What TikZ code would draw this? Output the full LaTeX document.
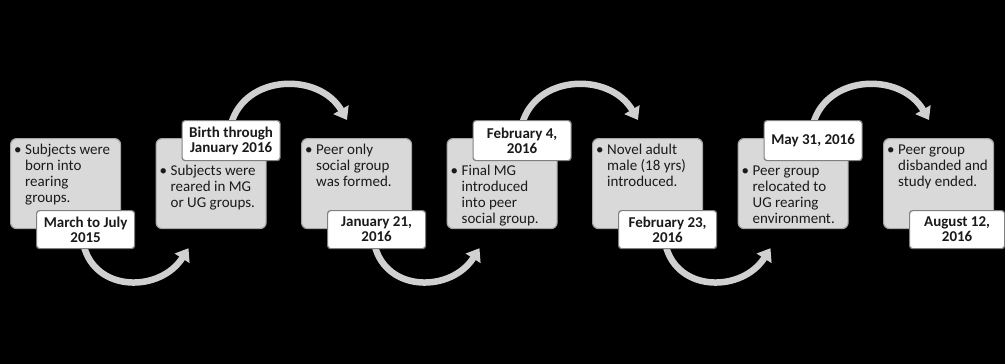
\documentclass[tikz,border=0pt]{standalone}
\usepackage{fontspec}
\setmainfont{Carlito}
\usetikzlibrary{arrows.meta,calc}
\definecolor{boxfill}{HTML}{D9D9D9}
\definecolor{cardline}{HTML}{A6A6A6}
\definecolor{dateline}{HTML}{808080}
\definecolor{arccol}{HTML}{D0D0D0}
\definecolor{textcol}{HTML}{1A1A1A}
\pgfdeclarelayer{bg}
\pgfdeclarelayer{arcs}
\pgfsetlayers{bg,arcs,main}
\newcommand\bulletlines[1]{\makebox[11pt][l]{\textbullet}\begin{tabular}[t]{@{}l@{}}#1\end{tabular}}
\tikzset{
  card/.style={draw=cardline, fill=boxfill, line width=1.2pt, rounded corners=6pt,
    minimum width=110pt, minimum height=90pt, inner sep=0pt, anchor=north west},
  datebox/.style={draw=dateline, fill=white, line width=1.2pt, rounded corners=3pt,
    minimum width=98pt, minimum height=38pt, inner sep=0pt, anchor=north west,
    font=\fontsize{15}{15}\selectfont\bfseries, align=center, text=textcol},
  bodytext/.style={anchor=north west, inner sep=0pt,
    font=\fontsize{15}{16}\selectfont, text=textcol},
  arcline/.style={draw=arccol, line width=6.5pt, -{Triangle[width=17pt,length=12pt]}}
}
\begin{document}
\begin{tikzpicture}[x=1pt,y=1pt]
\begin{pgfonlayer}{bg}
\fill[black] (0,0) rectangle (1005,-364);
\end{pgfonlayer}
\useasboundingbox (0,0) rectangle (1005,-364);

% cards
\node[card] (b1) at (10,-138) {};
\node[card] (b2) at (155.5,-138) {};
\node[card] (b3) at (301,-138) {};
\node[card] (b4) at (446.5,-138) {};
\node[card] (b5) at (592,-138) {};
\node[card] (b6) at (737.5,-138) {};
\node[card] (b7) at (883,-138) {};

% body texts
\node[bodytext] (t1) at ($(b1.north west)+(4,-5)$) {\bulletlines{Subjects were\\born into\\rearing\\groups.}};
\node[bodytext] (t2) at ($(b2.north west)+(4,-26)$) {\bulletlines{Subjects were\\reared in MG\\or UG groups.}};
\node[bodytext] (t3) at ($(b3.north west)+(4,-5)$) {\bulletlines{Peer only\\social group\\was formed.}};
\node[bodytext] (t4) at ($(b4.north west)+(4,-26)$) {\bulletlines{Final MG\\introduced\\into peer\\social group.}};
\node[bodytext] (t5) at ($(b5.north west)+(4,-5)$) {\bulletlines{Novel adult\\male (18 yrs)\\introduced.}};
\node[bodytext] (t6) at ($(b6.north west)+(4,-26)$) {\bulletlines{Peer group\\relocated to\\UG rearing\\environment.}};
\node[bodytext] (t7) at ($(b7.north west)+(4,-5)$) {\bulletlines{Peer group\\disbanded and\\study ended.}};

% date labels
\node[datebox] (d1) at (36,-210) {March to July\\2015};
\node[datebox, minimum height=40pt] (d2) at (181.5,-120) {Birth through\\January 2016};
\node[datebox] (d3) at (327,-210) {January 21,\\2016};
\node[datebox, minimum height=40pt] (d4) at (472.5,-120) {February 4,\\2016};
\node[datebox] (d5) at (618,-210) {February 23,\\2016};
\node[datebox, minimum height=40pt] (d6) at (763.5,-120) {May 31, 2016};
\node[datebox, minimum width=95pt] (d7) at (909,-210) {August 12,\\2016};

% curved arrows
\begin{pgfonlayer}{arcs}
\draw[arcline] ($(d1.south)+(-2,4)$) .. controls +(12,-48) and +(-28,-44) .. ($(b2.south west)+(33,-19)$);
\draw[arcline] ($(d3.south)+(-2,4)$) .. controls +(12,-48) and +(-28,-44) .. ($(b4.south west)+(33,-19)$);
\draw[arcline] ($(d5.south)+(-2,4)$) .. controls +(12,-48) and +(-28,-44) .. ($(b6.south west)+(33,-19)$);
\draw[arcline] ($(d2.north)+(0,-4)$) .. controls +(14,50) and +(-28,48) .. ($(b3.north west)+(46,18)$);
\draw[arcline] ($(d4.north)+(0,-4)$) .. controls +(14,50) and +(-28,48) .. ($(b5.north west)+(46,18)$);
\draw[arcline] ($(d6.north)+(0,-4)$) .. controls +(14,50) and +(-28,48) .. ($(b7.north west)+(46,18)$);
\end{pgfonlayer}
\end{tikzpicture}
\end{document}
